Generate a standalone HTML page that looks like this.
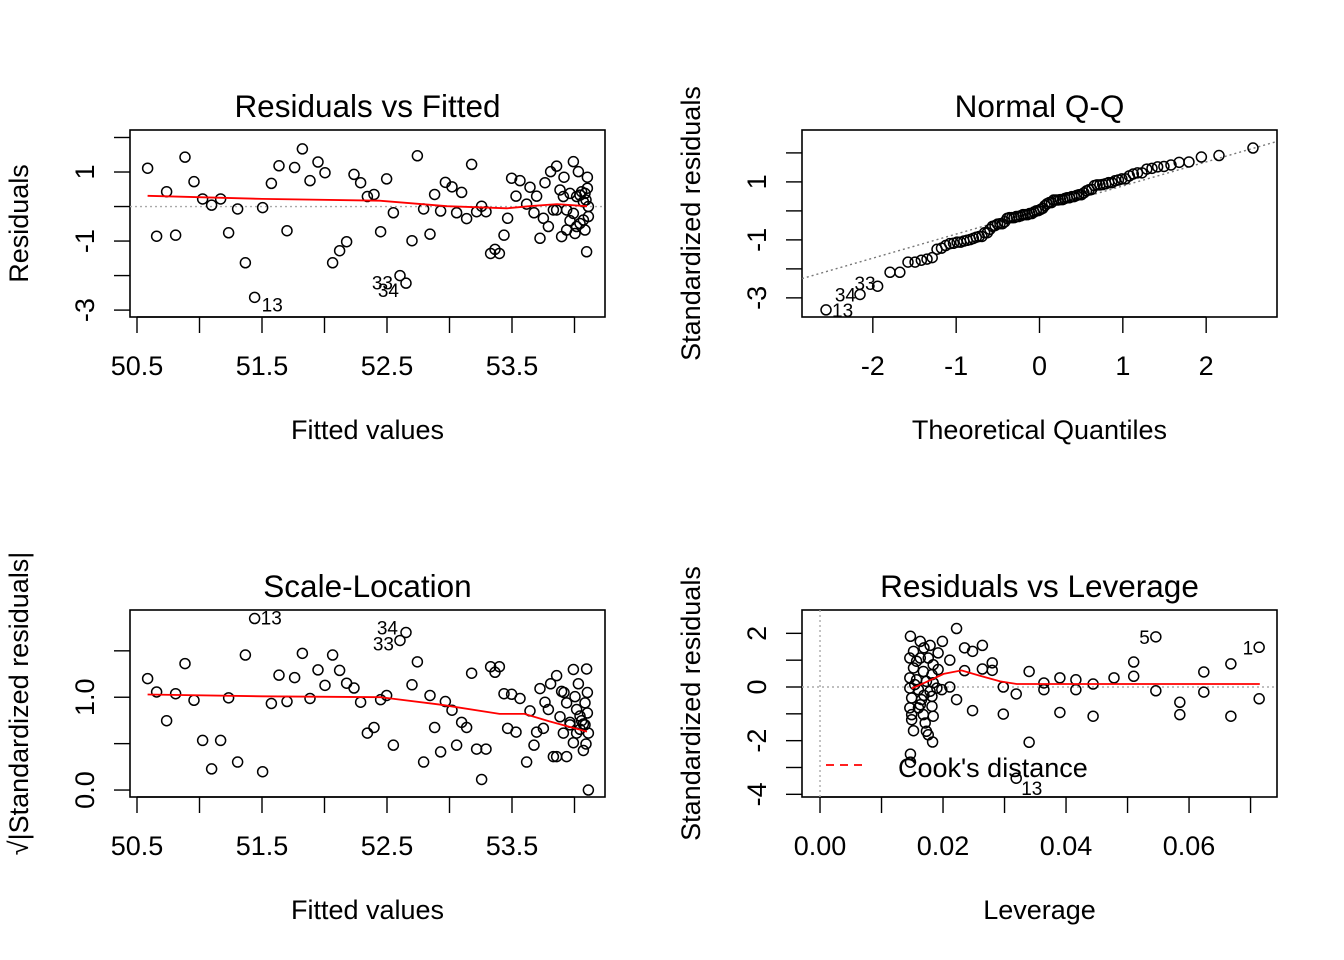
<!DOCTYPE html>
<html><head><meta charset="utf-8"><style>
html,body{margin:0;padding:0;background:#fff}
svg{display:block}
text{font-family:"Liberation Sans",Arial,sans-serif;fill:#000}
</style></head><body>
<svg id="chart" width="1344" height="960" viewBox="0 0 1344 960" xmlns="http://www.w3.org/2000/svg"></svg>
<script>
// ---- data ----
const fittedValues = [50.585,50.737,50.884,50.956,51.025,51.097,51.169,51.305,51.505,50.657,50.809,51.233,51.367,51.441,51.575,51.636,51.761,51.823,51.884,51.948,52.004,51.700,52.065,52.121,52.177,52.236,52.289,52.343,52.396,52.497,52.551,52.449,52.604,52.652,52.700,52.743,52.793,52.844,52.881,52.929,52.967,53.020,53.057,53.097,53.137,53.177,53.217,53.257,53.292,53.329,53.364,53.399,53.436,53.465,53.497,53.532,53.564,53.617,53.644,53.676,53.697,53.724,53.751,53.764,53.791,53.809,53.831,53.857,53.884,53.897,53.916,53.937,53.964,53.991,54.004,54.031,54.044,54.057,54.071,54.084,54.103,54.097,54.111,54.092,53.964,54.017,54.071,53.991,54.044,54.111,54.017,53.911,53.857,54.084,53.937,54.103];
const residualValues = [1.11,0.43,1.43,0.72,0.22,0.04,0.22,-0.07,-0.03,-0.86,-0.83,-0.76,-1.63,-2.63,0.67,1.18,1.13,1.67,0.75,1.29,0.98,-0.70,-1.63,-1.28,-1.02,0.93,0.69,0.29,0.35,0.80,-0.18,-0.73,-2.00,-2.22,-0.99,1.47,-0.07,-0.80,0.35,-0.13,0.70,0.57,-0.18,0.41,-0.35,1.22,-0.15,0.01,-0.15,-1.36,-1.24,-1.36,-0.83,-0.34,0.82,0.30,0.75,0.07,0.56,-0.18,0.30,-0.92,-0.34,0.69,-0.58,1.01,-0.10,1.17,0.48,-0.87,0.85,-0.10,-0.41,1.30,-0.78,1.01,0.33,0.43,-0.39,-0.68,0.85,-1.31,0.00,0.19,0.38,0.29,0.14,-0.20,-0.49,-0.29,-0.58,0.29,-0.10,0.38,-0.68,0.53];
const pointIds = [1,2,3,4,5,6,7,8,9,10,11,12,14,13,15,16,17,18,19,20,21,22,23,24,25,26,27,28,29,30,31,32,33,34,35,36,37,38,39,40,41,42,43,44,45,46,47,48,49,50,51,52,53,54,55,56,57,58,59,60,61,62,63,64,65,66,67,68,69,70,71,72,73,74,75,76,77,78,79,80,81,82,83,84,85,86,87,88,89,90,91,92,93,94,95,96];
const residualSigma = [0.77];
const fitSmoothX = [50.585,51.5,52.44,52.98,53.46,53.64,53.86,54.1];
const fitSmoothY = [0.31,0.22,0.17,0.01,-0.05,0.01,0.07,0.01];
const qqLineParams = [0.03,0.83]; // intercept, slope
const scaleSmoothX = [50.585,51.5,52.45,52.93,53.4,53.6,53.8,54.1];
const scaleSmoothY = [1.03,1.01,1.0,0.92,0.82,0.82,0.74,0.63];
const leverageValues = [0.0222,0.0235,0.0248,0.0264,0.0280,0.0264,0.0280,0.0235,0.0211,0.0211,0.0222,0.0248,0.0298,0.0319,0.0298,0.0340,0.0340,0.0319,0.0364,0.0364,0.0390,0.0390,0.0416,0.0416,0.0444,0.0444,0.0478,0.0510,0.0510,0.0546,0.0546,0.0585,0.0585,0.0624,0.0624,0.0668,0.0668,0.0714,0.0714,0.0147,0.0163,0.0179,0.0199,0.0192,0.0146,0.0163,0.0176,0.0184,0.0152,0.0168,0.0192,0.0146,0.0157,0.0173,0.0184,0.0146,0.0160,0.0179,0.0190,0.0198,0.0149,0.0165,0.0182,0.0146,0.0160,0.0182,0.0149,0.0168,0.0184,0.0149,0.0171,0.0152,0.0173,0.0176,0.0183,0.0147,0.0147,0.0152,0.0169,0.0157,0.0182,0.0154,0.0169,0.0163];
const leverageStdRes = [2.18,1.46,1.33,1.55,0.90,0.67,0.62,0.61,1.0,0,-0.47,-0.88,0,-0.26,-1.01,0.58,-2.06,-3.40,0.15,-0.10,0.34,-0.95,0.27,-0.10,0.11,-1.09,0.34,0.93,0.40,1.87,-0.14,-0.57,-1.03,0.56,-0.19,0.86,-1.09,1.48,-0.44,1.89,1.70,1.55,1.70,1.27,1.08,1.08,1.08,0.83,0.71,0.58,0.65,0.34,0.27,0.21,0.16,-0.04,-0.10,-0.16,-0.04,-0.10,-0.41,-0.47,-0.35,-0.78,-0.78,-0.72,-1.03,-1.03,-1.09,-1.22,-1.34,-1.63,-1.65,-1.78,-2.05,-2.50,-2.80,1.33,1.46,0.96,0.46,0.09,-0.31,-0.66];
const leverageLabels = {17:"13",29:"5",37:"1"};
const levSmoothX = [0.0149,0.0173,0.0201,0.0230,0.0260,0.0293,0.0320,0.0715];
const levSmoothY = [-0.06,0.19,0.49,0.62,0.42,0.21,0.11,0.11];
const fittedTicks = [50.5,51.0,51.5,52.0,52.5,53.0,53.5,54.0];
const fittedTickLabels = ["50.5","51.5","52.5","53.5"];
const residTicks = [-3,-2,-1,0,1,2];
const residTickLabels = ["-3","-1","1"];
const qqXTicks = [-2,-1,0,1,2];
const qqYTicks = [-3,-2,-1,0,1,2];
const qqYTickLabels = ["-3","-1","1"];
const scaleTicks = [0,0.5,1.0,1.5];
const scaleTickLabels = ["0.0","1.0"];
const levXTicks = [0,0.01,0.02,0.03,0.04,0.05,0.06,0.07];
const levXTickLabels = ["0.00","0.02","0.04","0.06"];
const levYTicks = [-4,-3,-2,-1,0,1,2];
const levYTickLabels = ["-4","-2","0","2"];

// ---- helpers ----
const NS="http://www.w3.org/2000/svg";
const svg=document.getElementById('chart');
function mk(tag,attrs,parent,txt){const e=document.createElementNS(NS,tag);for(const k in attrs)e.setAttribute(k,attrs[k]);if(txt!==undefined)e.textContent=txt;(parent||svg).appendChild(e);return e;}
function lin(d0,d1,r0,r1){return v=>r0+(v-d0)*(r1-r0)/(d1-d0);}
function qnorm(p){const a=[-39.6968302866538,220.946098424521,-275.928510446969,138.357751867269,-30.6647980661472,2.50662827745924],b=[-54.4760987982241,161.585836858041,-155.698979859887,66.8013118877197,-13.2806815528857],c=[-0.00778489400243029,-0.322396458041136,-2.40075827716184,-2.54973253934373,4.37466414146497,2.93816398269878],d=[0.00778469570904146,0.32246712907004,2.445134137143,3.75440866190742];
 if(p<0.02425){const q=Math.sqrt(-2*Math.log(p));return(((((c[0]*q+c[1])*q+c[2])*q+c[3])*q+c[4])*q+c[5])/((((d[0]*q+d[1])*q+d[2])*q+d[3])*q+1);}
 if(p>1-0.02425){const q=Math.sqrt(-2*Math.log(1-p));return-(((((c[0]*q+c[1])*q+c[2])*q+c[3])*q+c[4])*q+c[5])/((((d[0]*q+d[1])*q+d[2])*q+d[3])*q+1);}
 const q=p-0.5,r=q*q;return(((((a[0]*r+a[1])*r+a[2])*r+a[3])*r+a[4])*r+a[5])*q/(((((b[0]*r+b[1])*r+b[2])*r+b[3])*r+b[4])*r+1);}

function panel(o){
 const g=mk('g',{});
 
 
 const L=o.box[0],T=o.box[1],R=o.box[2],B=o.box[3];
 const sx=lin(o.xd[0],o.xd[1],L,R), sy=lin(o.yd[0],o.yd[1],B,T);
 const t=mk('text',{x:(L+R)/2,y:T-13,'text-anchor':'middle','font-size':31.5},g,o.title);
 
 
 const xa=mk('g',{},g);
 
 
 const xt=o.xTicks;
 mk('line',{x1:sx(xt[0]),x2:sx(xt[xt.length-1]),y1:B,y2:B,stroke:'#000','stroke-width':1.4},xa);
 xt.forEach(v=>mk('line',{x1:sx(v),x2:sx(v),y1:B,y2:B+16,stroke:'#000','stroke-width':1.4},xa));
 o.xLabels.forEach(s=>mk('text',{x:sx(parseFloat(s)),y:B+58,'text-anchor':'middle','font-size':27},xa,s));
 const xtit=mk('text',{x:(L+R)/2,y:B+122,'text-anchor':'middle','font-size':27},g,o.xTitle);
 
 
 const ya=mk('g',{},g);
 
 
 const yt=o.yTicks;
 yt.forEach(v=>mk('line',{x1:L-16,x2:L,y1:sy(v),y2:sy(v),stroke:'#000','stroke-width':1.4},ya));
 o.yLabels.forEach(s=>{const yy=sy(parseFloat(s));mk('text',{x:L-36,y:yy,'text-anchor':'middle','font-size':27,transform:`rotate(-90 ${L-36} ${yy})`},ya,s);});
 const ymid=(T+B)/2;
 const ytit=mk('text',{x:L-102,y:ymid,'text-anchor':'middle','font-size':27,transform:`rotate(-90 ${L-102} ${ymid})`},g,o.yTitle);
 
 
 mk('rect',{x:L,y:T,width:R-L,height:B-T,fill:'none',stroke:'#000','stroke-width':1.6},g);
 return {g,sx,sy,L,T,R,B};
}
function pts(P,xs,ys,name){
 const g=mk('g',{},P.g);
 
 
 for(let i=0;i<xs.length;i++){
  const c=mk('circle',{cx:P.sx(xs[i]),cy:P.sy(ys[i]),r:5,fill:'none',stroke:'#000','stroke-width':1.5},g);
  
  
 }
}
function smooth(P,xs,ys,name){
 const d=xs.map((v,i)=>(i?'L':'M')+P.sx(v).toFixed(1)+' '+P.sy(ys[i]).toFixed(1)).join(' ');
 const p=mk('path',{d,fill:'none',stroke:'#ff0000','stroke-width':1.8},P.g);
 
 
}
function lbl(P,x,y,s,dx,dy){mk('text',{x:P.sx(x)+dx,y:P.sy(y)+dy,'font-size':19,'text-anchor':dx<0?'end':'start'},P.g,s);}
function hline(P,y){mk('line',{x1:P.L,x2:P.R,y1:P.sy(y),y2:P.sy(y),stroke:'#aaa','stroke-width':1.4,'stroke-dasharray':'2 3'},P.g);}

const stdRes=residualValues.map(r=>r/residualSigma[0]);
const idx13=pointIds.indexOf(13),idx33=pointIds.indexOf(33),idx34=pointIds.indexOf(34);

// Panel 1
const P1=panel({name:'residuals-vs-fitted',box:[130,130,605,317],xd:[50.444,54.244],yd:[-3.2,2.217],title:'Residuals vs Fitted',xTitle:'Fitted values',yTitle:'Residuals',xTicks:fittedTicks,xLabels:fittedTickLabels,yTicks:residTicks,yLabels:residTickLabels});
hline(P1,0);
pts(P1,fittedValues,residualValues,'fitted-points');
smooth(P1,fitSmoothX,fitSmoothY,'smoother-line');
lbl(P1,fittedValues[idx13],residualValues[idx13],'13',7,14);
lbl(P1,fittedValues[idx33],residualValues[idx33],'33',-7,14);
lbl(P1,fittedValues[idx34],residualValues[idx34],'34',-7,14);

// Panel 2
const P2=panel({name:'normal-qq',box:[802,130,1277,317],xd:[-2.85,2.85],yd:[-3.66,2.79],title:'Normal Q-Q',xTitle:'Theoretical Quantiles',yTitle:'Standardized residuals',xTicks:qqXTicks,xLabels:qqXTicks.map(String),yTicks:qqYTicks,yLabels:qqYTickLabels});
const n=stdRes.length;
const order=stdRes.map((v,i)=>i).sort((a,b)=>stdRes[a]-stdRes[b]);
const theo=[],samp=[];
order.forEach((k,j)=>{theo.push(qnorm((j+0.5)/n));samp.push(stdRes[k]);});
mk('line',{x1:P2.L,x2:P2.R,y1:P2.sy(qqLineParams[0]+qqLineParams[1]*-2.85),y2:P2.sy(qqLineParams[0]+qqLineParams[1]*2.85),stroke:'#777','stroke-width':1.4,'stroke-dasharray':'2 3'},P2.g);
pts(P2,theo,samp,'qq-points');
[idx13,idx34,idx33].forEach((k,i)=>{const j=order.indexOf(k);lbl(P2,theo[j],samp[j],String(pointIds[k]),i===0?6:(i===1?-4:-2),i===0?7:(i===1?7:4));});

// Panel 3
const P3=panel({name:'scale-location',box:[130,610,605,797],xd:[50.444,54.244],yd:[-0.075,1.94],title:'Scale-Location',xTitle:'Fitted values',yTitle:'√|Standardized residuals|',xTicks:fittedTicks,xLabels:fittedTickLabels,yTicks:scaleTicks,yLabels:scaleTickLabels});
const sqrtRes=stdRes.map(v=>Math.sqrt(Math.abs(v)));
pts(P3,fittedValues,sqrtRes,'scale-points');
smooth(P3,scaleSmoothX,scaleSmoothY,'smoother-line');
lbl(P3,fittedValues[idx13],sqrtRes[idx13],'13',6,6);
lbl(P3,fittedValues[idx33],sqrtRes[idx33],'33',-6,10);
lbl(P3,fittedValues[idx34],sqrtRes[idx34],'34',-8,2);

// Panel 4
const P4=panel({name:'residuals-vs-leverage',box:[802,610,1277,797],xd:[-0.00293,0.0743],yd:[-4.1,2.87],title:'Residuals vs Leverage',xTitle:'Leverage',yTitle:'Standardized residuals',xTicks:levXTicks,xLabels:levXTickLabels,yTicks:levYTicks,yLabels:levYTickLabels});
hline(P4,0);
mk('line',{x1:P4.sx(0),x2:P4.sx(0),y1:P4.T,y2:P4.B,stroke:'#aaa','stroke-width':1.4,'stroke-dasharray':'2 3'},P4.g);
pts(P4,leverageValues,leverageStdRes,'leverage-points');
smooth(P4,levSmoothX,levSmoothY,'smoother-line');
for(const k in leverageLabels){const i=+k;const s=leverageLabels[k];if(s==='13')lbl(P4,leverageValues[i],leverageStdRes[i],s,5,17);else lbl(P4,leverageValues[i],leverageStdRes[i],s,-6,7);}
const lg=mk('g',{},P4.g);


mk('line',{x1:826,x2:868,y1:765,y2:765,stroke:'#ff0000','stroke-width':1.8,'stroke-dasharray':'8 6'},lg);
mk('text',{x:898,y:777,'font-size':27},lg,"Cook's distance");
</script>
</body></html>
